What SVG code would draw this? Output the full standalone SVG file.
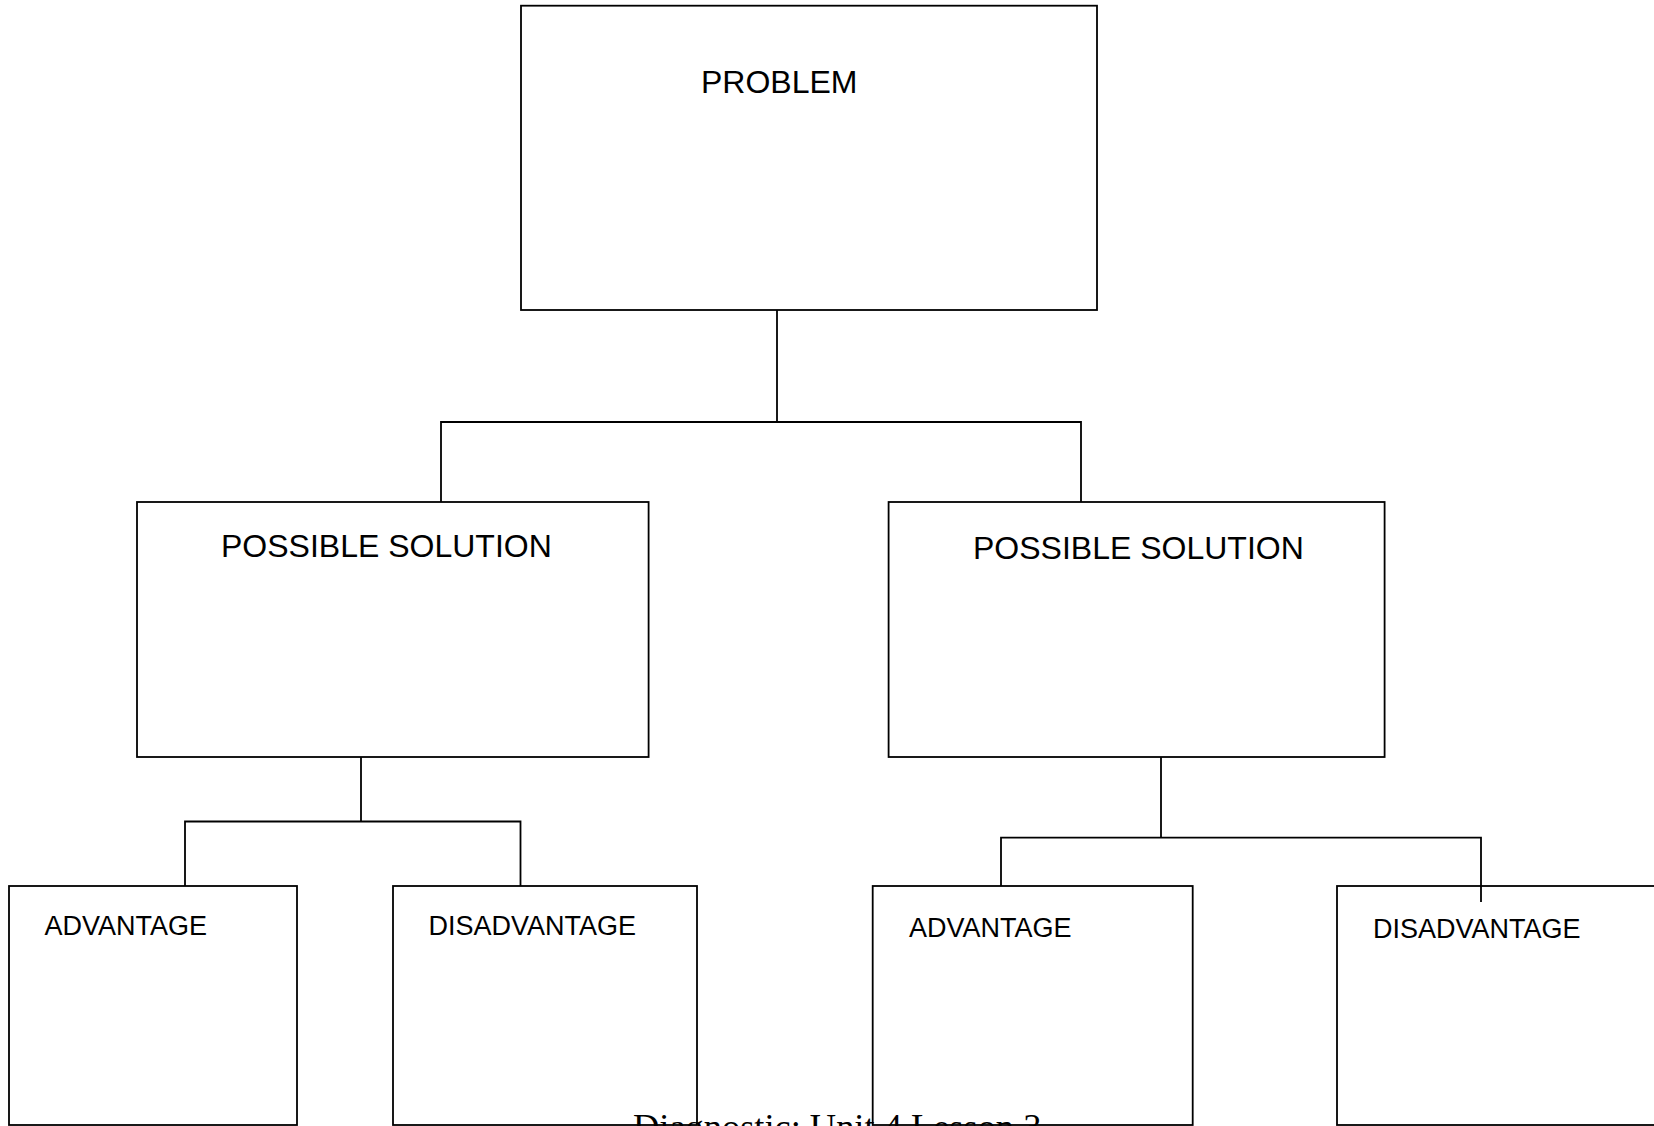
<svg xmlns="http://www.w3.org/2000/svg" width="1654" height="1126" viewBox="0 0 1654 1126">
<style>
.box{fill:none;stroke:#000;stroke-width:1.8}
.conn{fill:none;stroke:#000;stroke-width:1.8}
.lbl{font-family:"Liberation Sans",Arial,sans-serif;fill:#000}
.big{font-size:32px}
.small{font-size:27px}
.foot{font-family:"Liberation Serif","Times New Roman",serif;font-size:36.4px;fill:#000}
</style>
<rect width="1654" height="1126" fill="#fff"/>
<g id="connectors">
<polyline class="conn" points="777,310 777,422"/>
<polyline class="conn" points="441,502 441,422 1081,422 1081,502"/>
<polyline class="conn" points="361,757 361,821.5"/>
<polyline class="conn" points="185,886 185,821.5 520.5,821.5 520.5,886"/>
<polyline class="conn" points="1161,757 1161,837.7"/>
<polyline class="conn" points="1001,886 1001,837.7 1481,837.7 1481,902"/>
</g>
<g id="problem">
<rect class="box" x="521" y="5.7" width="576" height="304.3"/>
<text class="lbl big" x="701" y="93.3">PROBLEM</text>
</g>
<g id="solution-left">
<rect class="box" x="137" y="502" width="511.6" height="255"/>
<text class="lbl big" x="221" y="556.7">POSSIBLE SOLUTION</text>
</g>
<g id="solution-right">
<rect class="box" x="888.6" y="502" width="496" height="255"/>
<text class="lbl big" x="973" y="559">POSSIBLE SOLUTION</text>
</g>
<g id="advantage-left">
<rect class="box" x="9" y="886" width="288" height="239"/>
<text class="lbl small" x="44.6" y="935">ADVANTAGE</text>
</g>
<g id="disadvantage-left">
<rect class="box" x="393" y="886" width="304" height="239"/>
<text class="lbl small" x="428.6" y="935">DISADVANTAGE</text>
</g>
<g id="advantage-right">
<rect class="box" x="872.7" y="886" width="320" height="239"/>
<text class="lbl small" x="909" y="937">ADVANTAGE</text>
</g>
<g id="disadvantage-right">
<rect class="box" x="1337" y="886" width="330" height="239"/>
<text class="lbl small" x="1373" y="937.7">DISADVANTAGE</text>
</g>
<text class="foot" x="633" y="1139">Diagnostic: Unit 4 Lesson 3</text>
</svg>
